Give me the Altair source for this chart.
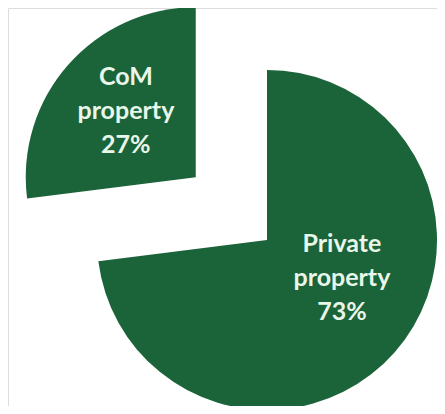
import math
import altair as alt
import pandas as pd

# ---- data ----
categories = ["Private property", "CoM property"]
label_lines = [["Private", "property"], ["CoM", "property"]]
values = [73, 27]

# ---- style ----
GREEN = "#1b6339"
TEXT = "#e9f6ea"
CX, CY = 259, 232          # pie centre (chart px)
R = 170                    # pie radius
explode = [0, 95]          # slice pull-out distance
label_r = [84, 96]         # label distance from slice centre
label_shift = [-14.5, 1.9] # label angle tweak (deg)
LINE_H = 34

df = pd.DataFrame({
    "cat": categories,
    "value": values,
    "idx": list(range(len(values))),
    "explode": explode,
    "lr": label_r,
    "lshift": [s * math.pi / 180 for s in label_shift],
    "label": [lines + [f"{v}%"] for lines, v in zip(label_lines, values)],
})
df["label"] = df["label"].apply(lambda l: "\n".join(l))

base = alt.Chart(df).transform_window(
    cum="sum(value)", sort=[alt.SortField("idx")]
).transform_joinaggregate(
    total="sum(value)"
).transform_calculate(
    t0="(datum.cum - datum.value) / datum.total * 2 * PI",
    t1="datum.cum / datum.total * 2 * PI",
).transform_calculate(
    mid="(datum.t0 + datum.t1) / 2"
).transform_calculate(
    cx=f"{CX} + datum.explode * sin(datum.mid)",
    cy=f"{CY} - datum.explode * cos(datum.mid)",
).transform_calculate(
    tx="datum.cx + datum.lr * sin(datum.mid + datum.lshift)",
    ty=f"datum.cy - datum.lr * cos(datum.mid + datum.lshift) - {LINE_H}",
)

arcs = base.mark_arc(radius=R, color=GREEN).encode(
    theta=alt.Theta("t0:Q", scale=None),
    theta2="t1:Q",
    x=alt.X("cx:Q", scale=None),
    y=alt.Y("cy:Q", scale=None),
)

labels = base.mark_text(
    font="Lato", fontWeight="bold", fontSize=25, color=TEXT,
    align="center", baseline="middle", lineBreak="\n", lineHeight=LINE_H,
).encode(
    x=alt.X("tx:Q", scale=None),
    y=alt.Y("ty:Q", scale=None),
    text="label:N",
)

chart = alt.layer(arcs, labels).properties(
    width=429, height=398, padding=0,
    autosize=alt.AutoSizeParams(type="none"),
).configure_view(stroke=None, strokeWidth=0).configure(background="white")

chart.save("out.html", embed_options={"renderer": "svg", "actions": False})
